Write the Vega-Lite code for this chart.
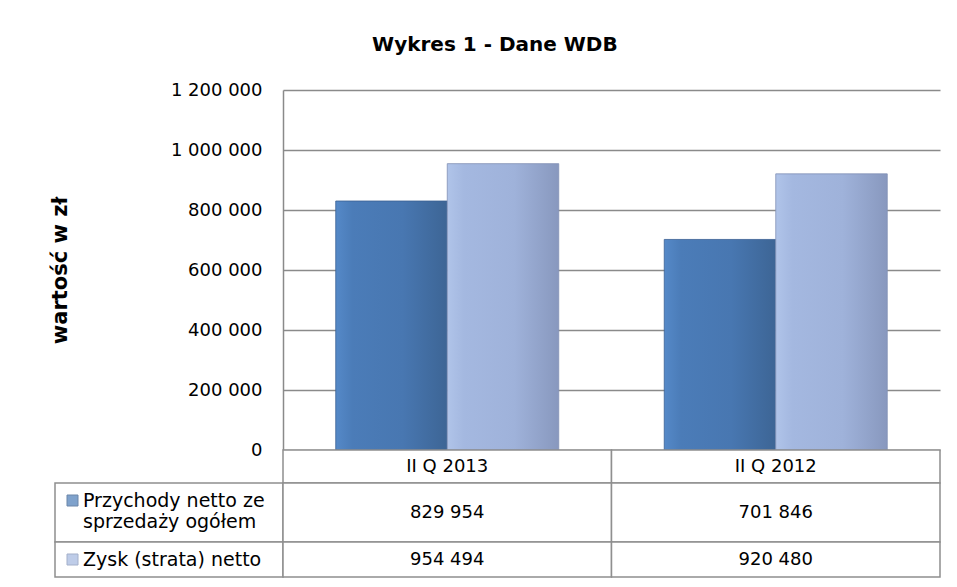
{
  "$schema": "https://vega.github.io/schema/vega-lite/v6.json",
  "padding": {"left": 49, "top": 35, "right": 5, "bottom": 5},
  "bounds": "flush",
  "spacing": 0,
  "columns": 2,
  "title": {"text": "Wykres 1 - Dane WDB", "anchor": "middle", "font": "DejaVu Sans", "fontSize": 20, "fontWeight": "bold", "color": "#000000", "offset": 26},
  "datasets": {
    "bars": [
      {"kw": "II Q 2013", "seria": "Przychody netto ze sprzedaży ogółem", "wartosc": 829954},
      {"kw": "II Q 2013", "seria": "Zysk (strata) netto", "wartosc": 954494},
      {"kw": "II Q 2012", "seria": "Przychody netto ze sprzedaży ogółem", "wartosc": 701846},
      {"kw": "II Q 2012", "seria": "Zysk (strata) netto", "wartosc": 920480}
    ]
  },
  "concat": [
    {
      "width": 228, "height": 360,
      "data": {"values": [{}]},
      "mark": {"type": "text", "text": ""},
      "encoding": {}
    },
    {
      "width": 657, "height": 360,
      "data": {"name": "bars"},
      "encoding": {
        "x": {"field": "kw", "type": "nominal", "sort": ["II Q 2013", "II Q 2012"], "scale": {"domain": ["II Q 2013", "II Q 2012"], "paddingInner": 0, "paddingOuter": 0}, "axis": null},
        "xOffset": {"field": "seria", "type": "nominal", "scale": {"domain": ["Przychody netto ze sprzedaży ogółem", "Zysk (strata) netto"], "paddingInner": 0, "paddingOuter": 0.473}},
        "y": {"field": "wartosc", "type": "quantitative", "scale": {"domain": [0, 1200000], "nice": false},
          "axis": {"title": "wartość w zł", "values": [0, 200000, 400000, 600000, 800000, 1000000, 1200000], "format": ",d", "grid": true, "ticks": false, "labelPadding": 21, "minExtent": 113, "maxExtent": 113, "titlePadding": 100}}
      },
      "layer": [
        {
          "transform": [{"filter": "datum.seria == 'Przychody netto ze sprzedaży ogółem'"}],
          "mark": {"type": "bar", "stroke": "#3a6093", "strokeWidth": 0.8,
            "fill": {"gradient": "linear", "x1": 0, "x2": 1, "y1": 0, "y2": 0,
              "stops": [{"offset": 0, "color": "#5589c8"}, {"offset": 0.15, "color": "#4b7cb8"}, {"offset": 0.6, "color": "#4877b1"}, {"offset": 1, "color": "#3d6595"}]}}
        },
        {
          "transform": [{"filter": "datum.seria == 'Zysk (strata) netto'"}],
          "mark": {"type": "bar", "stroke": "#8190b5", "strokeWidth": 0.8,
            "fill": {"gradient": "linear", "x1": 0, "x2": 1, "y1": 0, "y2": 0,
              "stops": [{"offset": 0, "color": "#b0c4e9"}, {"offset": 0.15, "color": "#a4b8e0"}, {"offset": 0.6, "color": "#9fb2da"}, {"offset": 1, "color": "#8898be"}]}}
        }
      ]
    },
    {
      "width": 228, "height": 33,
      "data": {"values": [{}]},
      "mark": {"type": "text", "text": ""},
      "encoding": {}
    },
    {
      "width": 657, "height": 33,
      "data": {"name": "bars"},
      "transform": [{"filter": "datum.seria == 'Zysk (strata) netto'"}],
      "encoding": {
        "x": {"field": "kw", "type": "nominal", "sort": ["II Q 2013", "II Q 2012"], "scale": {"domain": ["II Q 2013", "II Q 2012"], "paddingInner": 0, "paddingOuter": 0}, "axis": null}
      },
      "layer": [
        {"mark": {"type": "rect", "fill": "#ffffff", "stroke": "#8f8f8f", "strokeWidth": 1.5}},
        {"mark": {"type": "text", "fontSize": 18, "color": "#000000"}, "encoding": {"text": {"field": "kw"}}}
      ]
    },
    {
      "width": 228, "height": 59,
      "data": {"name": "bars"},
      "transform": [{"filter": "datum.seria == 'Przychody netto ze sprzedaży ogółem' && datum.kw == 'II Q 2013'"}],
      "layer": [
        {"mark": {"type": "rect", "fill": "#ffffff", "stroke": "#8f8f8f", "strokeWidth": 1.5}, "encoding": {}},
        {"mark": {"type": "point", "shape": "square", "filled": true, "size": 0, "strokeWidth": 0},
          "encoding": {"color": {"field": "seria", "type": "nominal", "scale": {"domain": ["Przychody netto ze sprzedaży ogółem"], "range": ["#4a7bb7"]},
            "legend": {"title": null, "orient": "top-left", "offset": 8, "padding": 0, "symbolType": "square", "symbolSize": 121, "symbolStrokeColor": "#2f5485", "symbolStrokeWidth": 1, "labelFontSize": 19, "labelColor": "#000000", "labelLimit": 0, "labelOffset": 1,
              "labelExpr": "datum.label == 'Przychody netto ze sprzedaży ogółem' ? ['Przychody netto ze', 'sprzedaży ogółem'] : datum.label"}}}}
      ]
    },
    {
      "width": 657, "height": 59,
      "data": {"name": "bars"},
      "transform": [{"filter": "datum.seria == 'Przychody netto ze sprzedaży ogółem'"}],
      "encoding": {
        "x": {"field": "kw", "type": "nominal", "sort": ["II Q 2013", "II Q 2012"], "scale": {"domain": ["II Q 2013", "II Q 2012"], "paddingInner": 0, "paddingOuter": 0}, "axis": null}
      },
      "layer": [
        {"mark": {"type": "rect", "fill": "#ffffff", "stroke": "#8f8f8f", "strokeWidth": 1.5}},
        {"mark": {"type": "text", "fontSize": 18, "color": "#000000"}, "encoding": {"text": {"field": "wartosc", "type": "quantitative", "format": ",d"}}}
      ]
    },
    {
      "width": 228, "height": 35,
      "data": {"name": "bars"},
      "transform": [{"filter": "datum.seria == 'Zysk (strata) netto' && datum.kw == 'II Q 2013'"}],
      "layer": [
        {"mark": {"type": "rect", "fill": "#ffffff", "stroke": "#8f8f8f", "strokeWidth": 1.5}, "encoding": {}},
        {"mark": {"type": "point", "shape": "square", "filled": true, "size": 0, "strokeWidth": 0},
          "encoding": {"color": {"field": "seria", "type": "nominal", "scale": {"domain": ["Zysk (strata) netto"], "range": ["#a3b7df"]},
            "legend": {"title": null, "orient": "top-left", "offset": 8, "padding": 0, "symbolType": "square", "symbolSize": 121, "symbolStrokeColor": "#7f8fb5", "symbolStrokeWidth": 1, "labelFontSize": 19, "labelColor": "#000000", "labelLimit": 0, "labelOffset": 1}}}}
      ]
    },
    {
      "width": 657, "height": 35,
      "data": {"name": "bars"},
      "transform": [{"filter": "datum.seria == 'Zysk (strata) netto'"}],
      "encoding": {
        "x": {"field": "kw", "type": "nominal", "sort": ["II Q 2013", "II Q 2012"], "scale": {"domain": ["II Q 2013", "II Q 2012"], "paddingInner": 0, "paddingOuter": 0}, "axis": null}
      },
      "layer": [
        {"mark": {"type": "rect", "fill": "#ffffff", "stroke": "#8f8f8f", "strokeWidth": 1.5}},
        {"mark": {"type": "text", "fontSize": 18, "color": "#000000"}, "encoding": {"text": {"field": "wartosc", "type": "quantitative", "format": ",d"}}}
      ]
    }
  ],
  "resolve": {"scale": {"color": "independent"}, "legend": {"color": "independent"}},
  "config": {
    "view": {"stroke": null},
    "font": "DejaVu Sans",
    "locale": {"number": {"decimal": ",", "thousands": " ", "grouping": [3], "currency": ["", " zł"]}},
    "axis": {"labelFont": "DejaVu Sans", "labelFontSize": 18, "labelColor": "#000000", "titleFont": "DejaVu Sans", "titleFontSize": 21, "titleFontWeight": "bold", "titleColor": "#000000", "gridColor": "#8a8a8a", "gridWidth": 1.5, "domainColor": "#8a8a8a", "domainWidth": 1.5},
    "legend": {"labelFont": "DejaVu Sans"}
  }
}
